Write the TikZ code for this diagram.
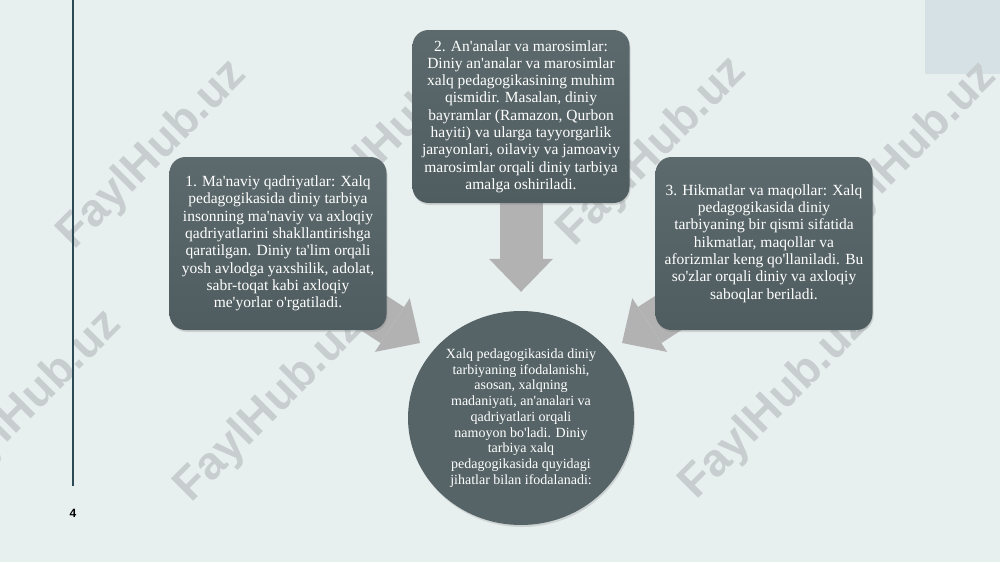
\documentclass[tikz,border=0pt]{standalone}
\usepackage{fontspec}
\setmainfont{Liberation Serif}[Ligatures=TeXOff]
\newfontfamily\wmfont{Liberation Sans}
\usepackage{tikz}
\usetikzlibrary{arrows.meta,shapes,positioning,shadows,calc}
\usepackage{xcolor}
\definecolor{slidebg}{RGB}{232,239,239}
\definecolor{cornerblue}{RGB}{213,225,229}
\definecolor{lineteal}{RGB}{45,74,86}
\definecolor{boxtop}{RGB}{92,106,109}
\definecolor{boxbottom}{RGB}{80,93,96}
\definecolor{hubgray}{RGB}{86,100,103}
\definecolor{arrgray}{RGB}{178,178,178}
\definecolor{markgray}{RGB}{200,206,207}
\pgfdeclarelayer{back}
\pgfdeclarelayer{mid}
\pgfsetlayers{back,mid,main}
\tikzstyle{idea} = [rectangle, rounded corners=16pt, minimum width=217pt, minimum height=173pt, inner sep=4pt, align=center, text=white, top color=boxtop, bottom color=boxbottom, font=\fontsize{15.5}{17.3}\selectfont, drop shadow={opacity=0.25, shadow xshift=1pt, shadow yshift=-2pt}]
\tikzstyle{hub} = [ellipse, minimum width=226pt, minimum height=214pt, inner sep=0pt, align=center, text=white, fill=hubgray, font=\fontsize{14}{15.7}\selectfont, drop shadow={opacity=0.25, shadow xshift=1pt, shadow yshift=-2pt}]
\tikzstyle{bigarrow} = [arrgray, line width=43pt, -{Triangle[length=33pt, width=64pt, line width=0pt]}]
\tikzstyle{wmark} = [rotate=45, text=markgray, font=\wmfont\bfseries\fontsize{46}{46}\selectfont]

\begin{document}
\begin{tikzpicture}[x=1pt, y=-1pt]
\useasboundingbox (0,0) rectangle (1000,562);
% slide background and watermarks
\begin{pgfonlayer}{back}
\clip (0,0) rectangle (1000,562);
\fill[slidebg] (0,0) rectangle (1000,562);
\fill[cornerblue] (925,0) rectangle (1000,74);
\foreach \wx/\wy [count=\i] in {153/155, 395/135, 653/152, 903/157, 28/405, 270/408, 775/405}
  \node (wm\i) [wmark] at (\wx,\wy) {FaylHub.uz};
\draw[lineteal, line width=1.5pt] (73,0) -- (73,486);
\node (pnum) [font=\wmfont\bfseries\fontsize{12}{12}\selectfont] at (73,513) {4};
\end{pgfonlayer}

% centre and the three points
\node (xalq) [hub] at (521,418) {Xalq pedagogikasida diniy\\ tarbiyaning ifodalanishi,\\ asosan, xalqning\\ madaniyati, an'analari va\\ qadriyatlari orqali\\ namoyon bo'ladi. Diniy\\ tarbiya xalq\\ pedagogikasida quyidagi\\ jihatlar bilan ifodalanadi:};
\node (anana) [idea, above of=xalq, node distance=301.5pt] {2. An'analar va marosimlar:\\ Diniy an'analar va marosimlar\\ xalq pedagogikasining muhim\\ qismidir. Masalan, diniy\\ bayramlar (Ramazon, Qurbon\\ hayiti) va ularga tayyorgarlik\\ jarayonlari, oilaviy va jamoaviy\\ marosimlar orqali diniy tarbiya\\ amalga oshiriladi.};
\node (qadr) [idea, left of=anana, node distance=243pt, yshift=-127pt] {1. Ma'naviy qadriyatlar: Xalq\\ pedagogikasida diniy tarbiya\\ insonning ma'naviy va axloqiy\\ qadriyatlarini shakllantirishga\\ qaratilgan. Diniy ta'lim orqali\\ yosh avlodga yaxshilik, adolat,\\ sabr-toqat kabi axloqiy\\ me'yorlar o'rgatiladi.};
\node (hikmat) [idea, right of=anana, node distance=243pt, yshift=-127pt] {3. Hikmatlar va maqollar: Xalq\\ pedagogikasida diniy\\ tarbiyaning bir qismi sifatida\\ hikmatlar, maqollar va\\ aforizmlar keng qo'llaniladi. Bu\\ so'zlar orqali diniy va axloqiy\\ saboqlar beriladi.};

% block arrows into the centre
\coordinate (tipl) at ($(xalq.center)+(-101,-75)$);
\coordinate (tipm) at ([yshift=19pt]xalq.north);
\coordinate (tipr) at ($(xalq.center)+(101,-75)$);
\begin{pgfonlayer}{mid}
\draw[bigarrow] ($(qadr.center)+(58,45)$) -- (tipl);
\draw[bigarrow] ([yshift=12pt]anana.south) -- (tipm);
\draw[bigarrow] ($(hikmat.center)+(-58,45)$) -- (tipr);
\end{pgfonlayer}
\end{tikzpicture}
\end{document}
